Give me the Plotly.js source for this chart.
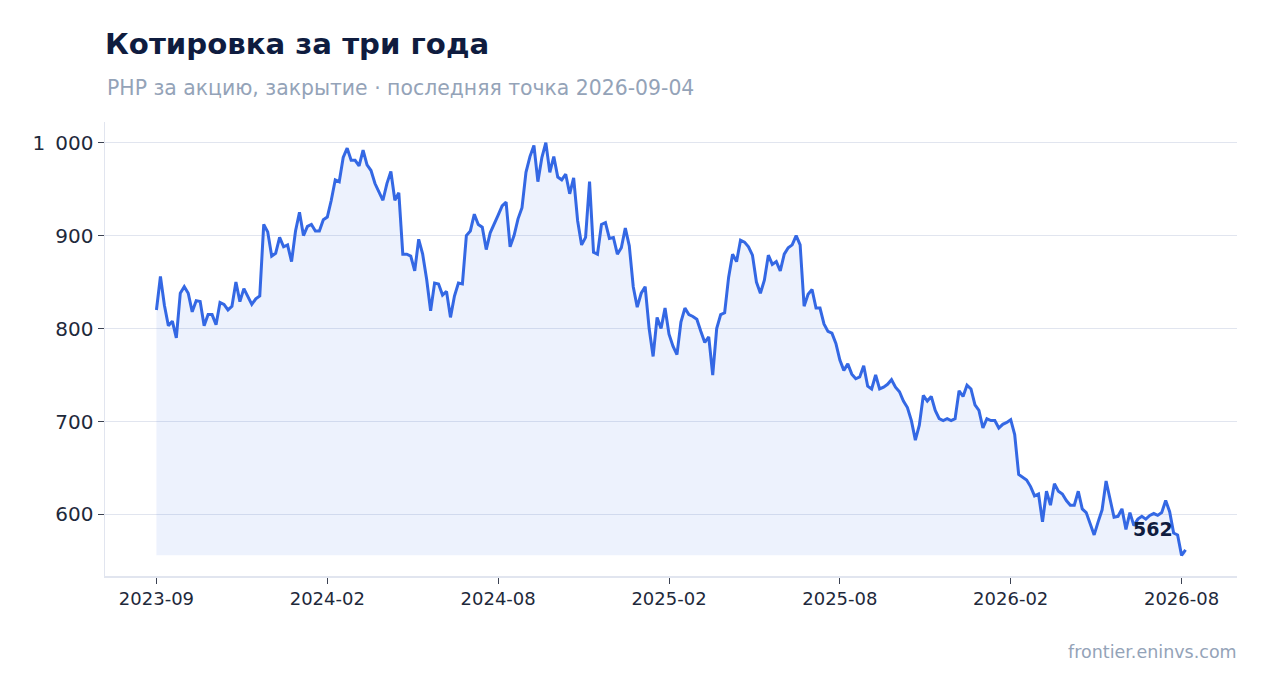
<!DOCTYPE html>
<html>
<head>
<meta charset="utf-8">
<script src="https://cdn.plot.ly/plotly-3.0.1.min.js"></script>
<style>
  html, body { margin: 0; padding: 0; background: #ffffff; }
  #quoteChart { width: 1267px; height: 693px; }
</style>
</head>
<body>
<div id="quoteChart"></div>
<script>
// закрытия, ~раз в неделю (по 43 точки между подписями оси)
var closePrices = [
    820, 856, 825, 803, 808, 790, 838, 845, 838, 818,
    830, 829, 803, 815, 815, 804, 828, 826, 820, 824,
    850, 829, 843, 834, 826, 832, 835, 912, 904, 878,
    881, 898, 888, 890, 872, 905, 925, 900, 910, 912,
    905, 905, 917, 920, 938, 960, 958, 984, 994, 981,
    981, 975, 992, 976, 970, 956, 946, 938, 956, 969,
    938, 946, 880, 880, 878, 862, 896, 880, 853, 819,
    849, 848, 836, 840, 812, 835, 849, 848, 900, 905,
    923, 912, 909, 885, 903, 912, 922, 932, 936, 888,
    900, 918, 930, 968, 985, 997, 958, 984, 1000, 968,
    985, 963, 960, 966, 945, 962, 916, 890, 898, 958,
    882, 880, 912, 914, 897, 898, 880, 887, 908, 889,
    845, 823, 838, 845, 800, 770, 812, 800, 822, 794,
    781, 772, 807, 822, 815, 813, 810, 797, 785, 791,
    750, 800, 815, 817, 855, 880, 872, 895, 893, 888,
    879, 850, 838, 852, 879, 869, 872, 862, 880, 887,
    890, 900, 890, 824, 837, 842, 822, 822, 805, 797,
    795, 784, 766, 755, 762, 751, 746, 748, 760, 738,
    735, 750, 735, 737, 740, 745, 737, 732, 722, 715,
    701, 680, 696, 728, 722, 727, 712, 703, 701, 703,
    701, 703, 733, 727, 739, 735, 718, 712, 693, 703,
    701, 701, 693, 697, 699, 702, 686, 643, 640, 637,
    630, 620, 622, 592, 625, 610, 633, 625, 622, 615,
    610, 610, 625, 606, 602, 590, 578, 592, 605, 636,
    615, 597, 598, 606, 584, 602, 588, 595, 598, 595,
    599, 601, 599, 602, 615, 603, 580, 578, 556, 562
];
var tickLabels = ['2023-09', '2024-02', '2024-08', '2025-02', '2025-08', '2026-02', '2026-08'];
var pointsPerTick = 43;

var idx = closePrices.map(function (p, i) { return i; });
var minPrice = Math.min.apply(null, closePrices);
var maxPrice = Math.max.apply(null, closePrices);
var lastIdx = closePrices.length - 1;
var lastPrice = closePrices[lastIdx];
var padY = (maxPrice - minPrice) * 0.05;
var padX = lastIdx * 0.05;

var blue = '#3468e4';
var navy = '#0f1c3f';
var muted = '#94a3b8';
var lineGrey = '#e1e5ef';

var dataQuote = [{
    x: idx,
    y: closePrices.map(function () { return minPrice; }),
    type: 'scatter',
    mode: 'lines',
    line: {width: 0},
    hoverinfo: 'skip',
    showlegend: false
}, {
    x: idx,
    y: closePrices,
    type: 'scatter',
    mode: 'lines',
    fill: 'tonexty',
    fillcolor: 'rgba(52, 104, 228, 0.085)',
    line: {color: blue, width: 3},
    showlegend: false
}];

var layoutQuote = {
    width: 1267,
    height: 693,
    margin: {l: 105, r: 30, t: 122, b: 117},
    paper_bgcolor: '#ffffff',
    plot_bgcolor: '#ffffff',
    font: {family: 'DejaVu Sans', color: '#1e293b'},
    separators: ',\u2002',
    title: {
        text: '<b>Котировка за три года</b>',
        font: {size: 29.2, color: navy},
        x: 0,
        xref: 'paper',
        xanchor: 'left',
        y: 1 - 44 / 693,
        yref: 'container',
        yanchor: 'middle'
    },
    xaxis: {
        range: [-padX, lastIdx + padX],
        tickvals: tickLabels.map(function (t, k) { return k * pointsPerTick; }),
        ticktext: tickLabels,
        showgrid: false,
        zeroline: false,
        showline: true,
        linecolor: lineGrey,
        linewidth: 1.5,
        ticks: 'outside',
        ticklen: 6,
        tickcolor: '#3b4252',
        tickfont: {size: 18, color: '#1e293b'}
    },
    yaxis: {
        range: [minPrice - padY, maxPrice + padY],
        dtick: 100,
        tick0: 0,
        separatethousands: true,
        showgrid: true,
        gridcolor: lineGrey,
        gridwidth: 1.5,
        zeroline: false,
        showline: true,
        linecolor: lineGrey,
        linewidth: 1.5,
        ticks: 'outside',
        ticklen: 6,
        tickcolor: '#3b4252',
        tickfont: {size: 20, color: '#1e293b'}
    },
    annotations: [{
        text: 'PHP за акцию, закрытие · последняя точка 2026-09-04',
        xref: 'paper', yref: 'paper',
        x: 0, y: (576 - 88) / 454,
        xanchor: 'left', yanchor: 'middle',
        showarrow: false,
        font: {size: 20.4, color: muted}
    }, {
        text: 'frontier.eninvs.com',
        xref: 'paper', yref: 'paper',
        x: 1, y: (576 - 652) / 454,
        xanchor: 'right', yanchor: 'middle',
        xshift: 2,
        showarrow: false,
        font: {size: 17.5, color: muted}
    }, {
        text: '<b>' + lastPrice + '</b>',
        x: lastIdx, y: lastPrice,
        xanchor: 'right', yanchor: 'middle',
        xshift: -11, yshift: 21,
        showarrow: false,
        font: {size: 19, color: navy}
    }]
};

Plotly.newPlot('quoteChart', dataQuote, layoutQuote, {displayModeBar: false, staticPlot: true});
</script>
</body>
</html>
